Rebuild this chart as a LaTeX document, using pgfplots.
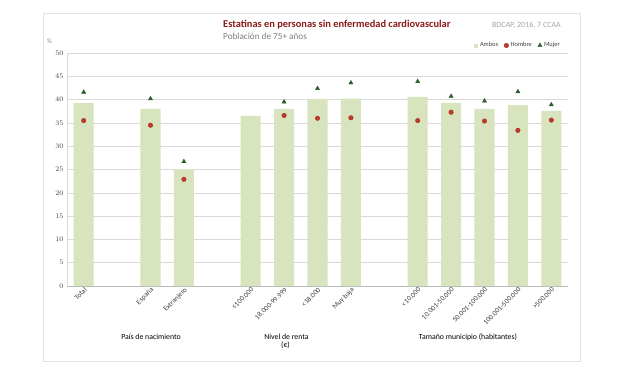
\documentclass[border=0pt]{standalone}
\usepackage{pgfplots}
\pgfplotsset{compat=1.18}
\usepackage{fontspec}
\setmainfont{Carlito}
\definecolor{barfill}{HTML}{D7E4BD}
\definecolor{hombre}{HTML}{C0392B}
\definecolor{hombredraw}{HTML}{9E2A22}
\definecolor{mujer}{HTML}{2E5A2E}
\definecolor{titlered}{HTML}{8B1A1A}
\definecolor{subgray}{HTML}{7F7F7F}
\definecolor{srcgray}{HTML}{A6A6A6}
\definecolor{tickgray}{HTML}{404040}
\definecolor{gridgray}{HTML}{D9D9D9}
\definecolor{framegray}{HTML}{E3E3E3}
\pgfplotsset{
  barlegend/.style={legend image code/.code={\fill[barfill] (0pt,-2pt) rectangle (4pt,2pt);}},
  marklegend/.style={legend image code/.code={\draw[##1] plot coordinates {(2pt,0pt)};}},
}
\begin{document}
\begin{tikzpicture}[x=1pt,y=1pt]
\useasboundingbox (0,0) rectangle (620,368);
\fill[white] (0,0) rectangle (620,368);
\draw[framegray, line width=1pt] (43,7) rectangle (580,355);
\node[anchor=west, font=\fontsize{10.4}{12}\selectfont\bfseries, text=titlered, inner sep=0] at (223,343) {Estatinas en personas sin enfermedad cardiovascular};
\node[anchor=west, font=\fontsize{9.2}{10}\selectfont, text=subgray, inner sep=0] at (223,331.5) {Población de 75+ años};
\node[anchor=east, font=\fontsize{8}{9}\selectfont, text=srcgray, inner sep=0] at (561,343) {BDCAP, 2016, 7 CCAA};
\node[anchor=west, font=\fontsize{6.5}{7}\selectfont, text=subgray, inner sep=0] at (47,327) {\%};
\begin{axis}[
  at={(67pt,82pt)}, anchor=south west,
  scale only axis, width=501pt, height=233pt,
  xmin=-0.5, xmax=14.5, ymin=0, ymax=50,
  ytick={0,5,...,50},
  xtick={0,2,3,5,6,7,8,10,11,12,13,14},
  xticklabels={Total,España,Extranjero,≤100.000,18.000-99.999,<18.000,Muy baja,<10.000,10.001-50.000,50.001-100.000,100.001-500.000,>500.000},
  xticklabel style={rotate=45, anchor=north east, font=\fontsize{7.2}{8}\selectfont, text=tickgray, inner sep=0.5pt},
  yticklabel style={font=\fontsize{7.2}{8}\selectfont, text=tickgray},
  major tick length=0pt,
  ymajorgrids, grid style={gridgray, line width=0.6pt},
  axis x line*=bottom, axis y line*=left,
  x axis line style={-, draw=gray!55, line width=0.6pt},
  y axis line style={-, draw=gridgray, line width=0.6pt},
  legend columns=3,
  legend style={at={(0.988,1.01)}, anchor=south east, draw=none, fill=none,
    font=\fontsize{6.4}{8}\selectfont, text=tickgray, inner sep=0pt,
    /tikz/every even column/.append style={column sep=4pt}},
  legend cell align=left,
]
\addplot[ybar, bar width=0.6, fill=barfill, draw=none, barlegend]
  coordinates {(0,39.3) (2,38.0) (3,25.1) (5,36.5) (6,38.0) (7,40.1) (8,40.2) (10,40.6) (11,39.3) (12,38.0) (13,38.8) (14,37.6)};
\addlegendentry{Ambos}
\addplot[only marks, mark=*, mark size=2.3pt, mark options={fill=hombre, draw=hombredraw, line width=0.3pt}, marklegend]
  coordinates {(0,35.5) (2,34.5) (3,22.9) (6,36.6) (7,36.0) (8,36.1) (10,35.5) (11,37.3) (12,35.4) (13,33.4) (14,35.6)};
\addlegendentry{Hombre}
\addplot[only marks, mark=triangle*, mark size=2.4pt, mark options={fill=mujer, draw=mujer}, marklegend]
  coordinates {(0,41.6) (2,40.2) (3,26.7) (6,39.5) (7,42.4) (8,43.6) (10,43.9) (11,40.7) (12,39.7) (13,41.7) (14,38.9)};
\addlegendentry{Mujer}
\end{axis}
\node[font=\fontsize{7.8}{9}\selectfont, text=black, inner sep=0] at (151,30.7) {País de nacimiento};
\node[font=\fontsize{7.8}{9}\selectfont, text=black, inner sep=0] at (286.5,30.7) {Nivel de renta};
\node[font=\fontsize{7.8}{9}\selectfont, text=black, inner sep=0] at (285.5,23.2) {(€)};
\node[font=\fontsize{7.8}{9}\selectfont, text=black, inner sep=0] at (468,30.7) {Tamaño municipio (habitantes)};
\end{tikzpicture}
\end{document}
